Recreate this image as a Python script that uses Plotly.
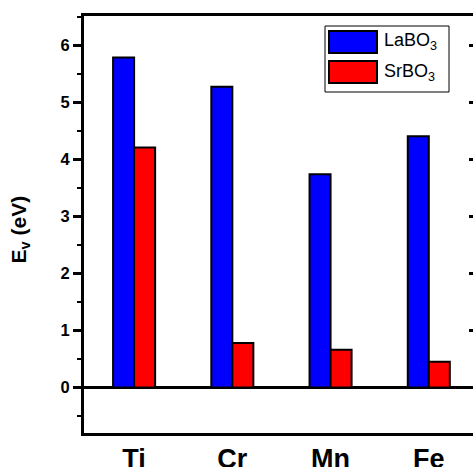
import plotly.graph_objects as go

categories = ["Ti", "Cr", "Mn", "Fe"]
labo3 = [5.79, 5.28, 3.74, 4.41]
srbo3 = [4.21, 0.78, 0.66, 0.45]
series_names = ["LaBO<sub>3</sub>", "SrBO<sub>3</sub>"]
series_colors = ["#0000FF", "#FF0000"]
y_ticks = [0, 1, 2, 3, 4, 5, 6]

W, H = 473, 467
L, R, T, B = 84, 0, 16, 34
PW, PH = W - L - R, H - T - B

def px(x):
    return (x - L) / PW

def py(y):
    return (H - B - y) / PH

FONT = "Arial, Liberation Sans, sans-serif"

fig = go.Figure()
for name, vals, col in zip(series_names, [labo3, srbo3], series_colors):
    fig.add_trace(go.Bar(
        x=categories, y=vals, name=name,
        marker=dict(color=col, line=dict(color="black", width=2)),
        showlegend=False,
    ))
# invisible trace for right-side ticks
fig.add_trace(go.Scatter(x=[categories[0]], y=[0], yaxis="y2", mode="markers",
                         marker=dict(opacity=0), showlegend=False, hoverinfo="skip"))

fig.update_layout(
    width=W, height=H,
    margin=dict(l=L, r=R, t=T, b=B, autoexpand=False),
    plot_bgcolor="white", paper_bgcolor="white",
    barmode="group", bargap=0.572, bargroupgap=0,
    font=dict(family=FONT, color="black"),
    xaxis=dict(
        range=[-0.51, 3.45], showline=True, linecolor="black", linewidth=3,
        mirror=True, ticks="", showgrid=False, zeroline=False, automargin=False,
        tickfont=dict(size=27, family=FONT, weight="bold"),
    ),
    yaxis=dict(
        range=[-0.8, 6.52], showline=True, linecolor="black", linewidth=3,
        ticks="outside", ticklen=8, tickwidth=2.5, tickcolor="black",
        tickvals=y_ticks, showgrid=False, automargin=False,
        zeroline=True, zerolinecolor="black", zerolinewidth=2.5,
        tickfont=dict(size=16.5, family=FONT, weight="bold"),
        minor=dict(ticks="outside", ticklen=4, tickwidth=2, tickcolor="black", dtick=0.5, tick0=0),
    ),
    yaxis2=dict(
        range=[-0.8, 6.52], overlaying="y", side="right", showline=False,
        ticks="inside", ticklen=4, tickwidth=2.5, tickcolor="black", automargin=False,
        tickvals=y_ticks[1:], showticklabels=False, showgrid=False, zeroline=False,
    ),
)

# y-axis title
fig.add_annotation(
    text="<b>E<sub>v</sub> (eV)</b>", xref="paper", yref="paper",
    x=px(19.5), y=py(230), textangle=-90, showarrow=False,
    font=dict(size=21, family=FONT), xanchor="center", yanchor="middle",
)

# legend box
fig.add_shape(type="rect", xref="paper", yref="paper",
              x0=px(325), x1=px(449), y0=py(92), y1=py(26),
              line=dict(color="black", width=1), fillcolor="white")
sw_y = [(31, 53), (61, 83)]
for (y0, y1), name, col in zip(sw_y, series_names, series_colors):
    fig.add_shape(type="rect", xref="paper", yref="paper",
                  x0=px(329), x1=px(377), y0=py(y1), y1=py(y0),
                  line=dict(color="black", width=2), fillcolor=col)
    fig.add_annotation(text=name, xref="paper", yref="paper",
                       x=px(382), y=py((y0 + y1) / 2), xanchor="left", yanchor="middle",
                       showarrow=False, font=dict(size=18, family=FONT))

fig.write_html("out.html")
